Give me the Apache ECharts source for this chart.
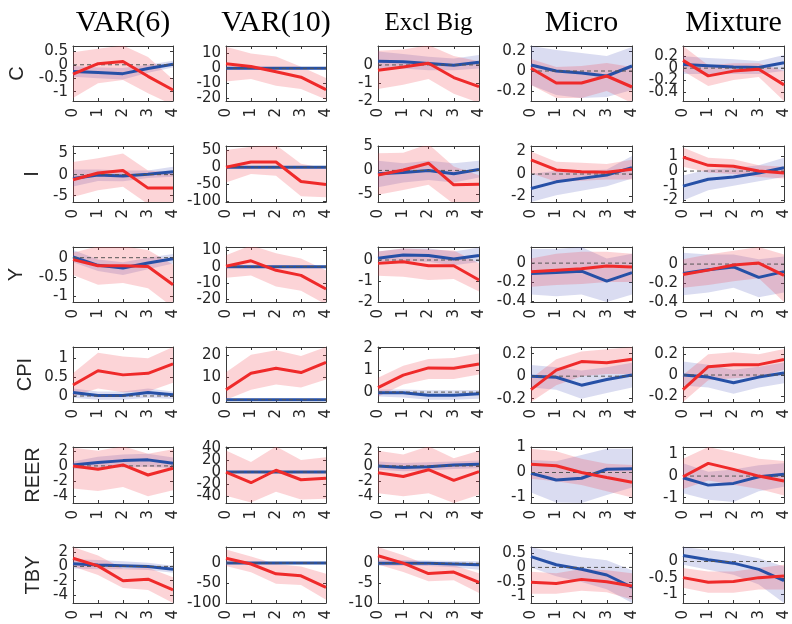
<!DOCTYPE html>
<html>
<head>
<meta charset="utf-8">
<script src="https://cdn.jsdelivr.net/npm/echarts@6/dist/echarts.min.js"></script>
<style>
  html, body { margin: 0; padding: 0; background: #ffffff; }
  #chart { width: 792px; height: 624px; }
</style>
</head>
<body>
<div id="chart"></div>
<script>
// Impulse responses over horizons 0..4: red = shock response with 90% band,
// blue = comparison response with band. Columns = model, rows = variable.
const horizons = [0, 1, 2, 3, 4];
const models = ['VAR(6)', 'VAR(10)', 'Excl Big', 'Micro', 'Mixture'];
const variables = ['C', 'I', 'Y', 'CPI', 'REER', 'TBY'];

// ---- C ----
const C_ylim = [[-1.35, 0.7], [-22, 15], [-2, 1.05], [-0.3, 0.25], [-0.55, 0.37]];
const C_ticks = [[-1, -0.5, 0, 0.5], [-20, -10, 0, 10], [-2, -1, 0], [-0.2, 0, 0.2], [-0.4, -0.2, 0, 0.2]];
const C_red   = [[-0.35, 0.04, 0.12, -0.43, -0.94], [3, 1.2, -2.3, -6, -14.3], [-0.3, -0.11, 0.09, -0.7, -1.2], [0.027, -0.12, -0.12, -0.05, -0.16], [0.13, -0.13, -0.05, -0.02, -0.28]];
const C_redLo = [[-1.24, -0.69, -0.57, -1.06, -1.5], [-8.8, -7.2, -11.7, -14, -21], [-1.33, -1.1, -0.78, -1.6, -2.1], [-0.14, -0.27, -0.27, -0.2, -0.32], [-0.05, -0.3, -0.2, -0.15, -0.55]];
const C_redHi = [[0.47, 0.6, 0.72, 0.29, -0.55], [14.5, 10, 8, 1, -6.5], [0.78, 0.85, 1.1, 0.5, 0.2], [0.12, 0.04, 0.05, 0.08, 0.04], [0.37, 0.05, 0.08, 0.08, -0.05]];
const C_blue   = [[-0.25, -0.29, -0.33, -0.14, 0.02], [0.1, 0.1, 0, 0, 0], [0.2, 0.18, 0.08, -0.02, 0.15], [0.06, 0.0, -0.02, -0.05, 0.05], [0.06, 0.04, 0.02, 0.01, 0.09]];
const C_blueLo = [[-0.45, -0.5, -0.55, -0.3, -0.1], [-0.6, -0.6, -0.6, -0.6, -0.6], [-0.25, -0.2, -0.3, -0.3, -0.2], [-0.14, -0.24, -0.27, -0.26, -0.19], [-0.1, -0.1, -0.1, -0.1, -0.05]];
const C_blueHi = [[-0.05, -0.1, -0.12, 0.0, 0.15], [0.7, 0.7, 0.6, 0.6, 0.6], [0.75, 0.6, 0.45, 0.35, 0.55], [0.25, 0.21, 0.18, 0.15, 0.24], [0.2, 0.17, 0.15, 0.12, 0.22]];

// ---- I ----
const I_ylim = [[-6.5, 6.8], [-102, 62], [-6.6, 5.1], [-2.5, 2.5], [-2.1, 1.7]];
const I_ticks = [[-5, 0, 5], [-100, -50, 0, 50], [-5, 0, 5], [-2, 0, 2], [-2, -1, 0, 1]];
const I_red   = [[-1.2, 0.4, 1.0, -3.2, -3.2], [0, 15, 15, -42, -51], [-0.95, 0.1, 1.5, -3.0, -2.9], [1.27, 0.36, 0.2, 0.15, 0.43], [0.95, 0.39, 0.32, 0, -0.13]];
const I_redLo = [[-5.3, -3.7, -2.9, -7, -7], [-45, -20, -25, -85, -88], [-5.1, -4.1, -3, -7, -7], [0.06, -0.7, -0.6, -0.5, -0.5], [0.3, -0.1, -0.2, -0.4, -0.5]];
const I_redHi = [[3.0, 3.9, 5.0, 1.0, 0.5], [50, 60, 65, 10, -3], [3.6, 3.7, 5.5, 0.8, -1.0], [2.0, 1.1, 1.0, 0.9, 1.27], [1.6, 0.9, 0.8, 0.4, 0.3]];
const I_blue   = [[-0.9, -0.1, -0.3, 0.1, 0.7], [0, 0, 0, 0, 0], [-0.7, -0.45, 0, -0.7, 0.2], [-1.3, -0.7, -0.39, -0.09, 0.57], [-1.02, -0.56, -0.4, -0.13, 0.23]];
const I_blueLo = [[-2.8, -1.5, -1.6, -0.8, -0.5], [-2, -2, -2, -2, -2], [-3.5, -2.5, -2, -2.5, -1.5], [-2.5, -1.9, -1.5, -1.1, -0.4], [-2.0, -1.3, -1.0, -0.7, -0.4]];
const I_blueHi = [[1.2, 1.2, 1.0, 1.0, 1.9], [2, 2, 2, 2, 2], [2, 1.5, 2, 1.5, 2], [0.0, 0.3, 0.3, 0.4, 1.6], [-0.3, 0.1, 0.2, 0.4, 0.9]];

// ---- Y ----
const Y_ylim = [[-1.16, 0.28], [-21.5, 12], [-2, 0.62], [-0.41, 0.17], [-0.4, 0.18]];
const Y_ticks = [[-1, -0.5, 0], [-20, -10, 0, 10], [-2, -1, 0], [-0.4, -0.2, 0], [-0.4, -0.2, 0]];
const Y_red   = [[-0.05, -0.21, -0.21, -0.23, -0.71], [0.3, 3.6, -2.2, -5.3, -13.6], [-0.16, -0.08, -0.27, -0.27, -0.95], [-0.09, -0.074, -0.06, -0.03, -0.04], [-0.11, -0.064, -0.01, 0.01, -0.12]];
const Y_redLo = [[-0.45, -0.71, -0.66, -0.8, -1.3], [-6.8, -5.3, -12, -14.7, -23], [-0.75, -0.8, -0.95, -0.9, -1.5], [-0.25, -0.23, -0.22, -0.2, -0.2], [-0.25, -0.22, -0.18, -0.15, -0.4]];
const Y_redHi = [[0.13, 0.3, 0.3, 0.2, -0.18], [7, 13, 8.2, 5, -2.2], [0.4, 0.55, 0.5, 0.45, -0.15], [0.05, 0.1, 0.12, 0.12, 0.1], [0.05, 0.1, 0.14, 0.18, 0.1]];
const Y_blue   = [[0.02, -0.2, -0.27, -0.14, -0.03], [0, 0, 0, 0, 0], [0.08, 0.24, 0.22, 0.05, 0.22], [-0.11, -0.1, -0.085, -0.19, -0.1], [-0.1, -0.06, -0.03, -0.14, -0.08]];
const Y_blueLo = [[-0.12, -0.35, -0.45, -0.3, -0.15], [-0.8, -0.8, -0.8, -0.8, -0.8], [-0.2, -0.05, -0.1, -0.25, -0.1], [-0.33, -0.35, -0.33, -0.41, -0.33], [-0.33, -0.3, -0.25, -0.35, -0.3]];
const Y_blueHi = [[0.2, -0.05, -0.12, 0.0, 0.1], [0.8, 0.8, 0.8, 0.8, 0.8], [0.4, 0.55, 0.55, 0.4, 0.6], [0.15, 0.15, 0.17, 0.05, 0.1], [0.12, 0.1, 0.1, 0.05, 0.08]];

// ---- CPI ----
const CPI_ylim = [[-0.16, 1.3], [-1, 23.5], [-0.45, 2.05], [-0.23, 0.26], [-0.26, 0.27]];
const CPI_ticks = [[0, 0.5, 1], [0, 10, 20], [0, 1, 2], [-0.2, 0, 0.2], [-0.2, 0, 0.2]];
const CPI_red   = [[0.29, 0.67, 0.56, 0.6, 0.85], [4.5, 11.8, 14, 12.1, 16.7], [0.2, 0.77, 1.1, 1.08, 1.28], [-0.12, 0.054, 0.13, 0.12, 0.15], [-0.14, 0.08, 0.1, 0.1, 0.15]];
const CPI_redLo = [[0.0, 0.2, 0.1, 0.12, 0.35], [0, 4.5, 6.8, 5.5, 9], [-0.2, 0.35, 0.6, 0.6, 0.8], [-0.23, -0.08, 0.0, 0.02, 0.02], [-0.26, -0.05, -0.03, -0.02, 0.05]];
const CPI_redHi = [[0.6, 1.15, 1.05, 1.0, 1.3], [12.3, 20, 22, 19.5, 23.5], [0.65, 1.2, 1.5, 1.55, 1.75], [-0.02, 0.15, 0.22, 0.24, 0.26], [0.0, 0.2, 0.22, 0.2, 0.25]];
const CPI_blue   = [[0.09, 0.01, 0.01, 0.09, 0.03], [0, 0, 0, 0, 0], [-0.03, -0.03, -0.14, -0.14, -0.08], [0, -0.01, -0.08, -0.03, 0.01], [0, -0.02, -0.075, -0.02, 0.02]];
const CPI_blueLo = [[-0.05, -0.1, -0.1, -0.05, -0.08], [-0.4, -0.4, -0.4, -0.4, -0.4], [-0.2, -0.25, -0.35, -0.35, -0.3], [-0.1, -0.12, -0.2, -0.15, -0.1], [-0.1, -0.12, -0.18, -0.12, -0.08]];
const CPI_blueHi = [[0.2, 0.12, 0.12, 0.2, 0.12], [0.4, 0.4, 0.4, 0.4, 0.4], [0.12, 0.12, 0.08, 0.08, 0.1], [0.1, 0.08, 0.05, 0.08, 0.12], [0.13, 0.1, 0.05, 0.08, 0.12]];

// ---- REER ----
const REER_ylim = [[-4.9, 2.5], [-52, 42], [-4.9, 2.5], [-1.22, 1.02], [-1.25, 1.35]];
const REER_ticks = [[-4, -2, 0, 2], [-40, -20, 0, 20, 40], [-4, -2, 0, 2], [-1, 0, 1], [-1, 0, 1]];
const REER_red   = [[0, -0.45, 0.13, -1.2, -0.3], [0, -18, 3, -13, -10.5], [-0.9, -1.4, -0.5, -1.9, -0.75], [0.33, 0.27, 0, -0.2, -0.39], [-0.03, 0.59, 0.31, 0, -0.23]];
const REER_redLo = [[-3.0, -3.3, -2.8, -4.0, -3.2], [-40, -51, -33, -46, -45], [-3.6, -4.0, -3.6, -4.9, -3.8], [-0.25, -0.35, -0.5, -0.75, -1.0], [-0.6, -0.2, -0.4, -0.6, -0.9]];
const REER_redHi = [[2.4, 2.0, 2.6, 1.6, 2.2], [36, 17, 43, 20, 25], [2.0, 1.5, 2.6, 1.0, 2.0], [0.95, 0.85, 0.55, 0.35, 0.3], [0.8, 1.35, 1.1, 0.8, 0.7]];
const REER_blue   = [[0.13, 0.45, 0.7, 0.8, 0.35], [0, 0, 0, 0, 0], [0, -0.2, -0.1, 0.13, 0.22], [-0.03, -0.3, -0.23, 0.13, 0.15], [-0.08, -0.42, -0.34, -0.03, 0.08]];
const REER_blueLo = [[-0.4, -0.3, -0.2, -0.1, -0.3], [-1.5, -1.5, -1.5, -1.5, -1.5], [-0.5, -0.7, -0.6, -0.4, -0.3], [-0.8, -1.2, -1.22, -0.9, -0.6], [-0.8, -1.1, -1.2, -0.7, -0.5]];
const REER_blueHi = [[0.6, 1.2, 1.5, 1.6, 1.1], [1.5, 1.5, 1.5, 1.5, 1.5], [0.6, 0.4, 0.5, 0.6, 0.7], [0.5, 0.45, 0.7, 0.95, 0.95], [0.6, 0.2, 0.3, 0.5, 0.6]];

// ---- TBY ----
const TBY_ylim = [[-5.1, 2.7], [-100, 40], [-10, 4.1], [-1.22, 0.7], [-1.26, 0.44]];
const TBY_ticks = [[-4, -2, 0, 2], [-100, -50, 0], [-10, -5, 0], [-1, -0.5, 0, 0.5], [-1, -0.5, 0]];
const TBY_red   = [[1.14, 0.07, -2.0, -1.78, -3.26], [12, -2.5, -27, -32, -61], [1.9, 0.05, -2.6, -2.2, -4.8], [-0.51, -0.55, -0.41, -0.49, -0.64], [-0.49, -0.63, -0.61, -0.49, -0.44]];
const TBY_redLo = [[0, -1.2, -3.0, -3.3, -5.1], [-7.5, -23, -52, -55, -92], [-0.3, -2.2, -4.5, -4.3, -7.5], [-0.9, -0.9, -0.8, -0.85, -1.1], [-0.8, -0.95, -0.95, -0.85, -0.85]];
const TBY_redHi = [[2.7, 1.5, -0.3, -0.2, -1.5], [34, 16, -2.5, -9, -27], [4.1, 2.0, -0.5, -0.5, -2.5], [-0.15, -0.2, -0.05, -0.1, -0.2], [-0.2, -0.3, -0.3, -0.2, -0.1]];
const TBY_blue   = [[0.35, 0.2, 0.1, -0.02, -0.4], [0, 0, 0, 0, 0], [0, 0, 0, -0.2, -0.4], [0.37, 0.09, -0.06, -0.26, -0.68], [0.18, 0.05, -0.05, -0.24, -0.58]];
const TBY_blueLo = [[-0.3, -0.4, -0.4, -0.5, -0.9], [-2, -2, -2, -2, -2], [-0.6, -0.6, -0.7, -1.0, -1.6], [0, -0.3, -0.5, -0.75, -1.22], [-0.1, -0.25, -0.4, -0.7, -1.26]];
const TBY_blueHi = [[1.0, 0.9, 0.7, 0.5, 0.1], [2, 2, 2, 2, 2], [0.8, 0.8, 0.7, 0.6, 0.5], [0.7, 0.5, 0.35, 0.25, -0.1], [0.44, 0.35, 0.25, 0.1, -0.15]];

// zero reference line
const zeroLine = [0, 0, 0, 0, 0];

// lookup built from the arrays above
const rows = [
  { ylim: C_ylim, ticks: C_ticks, red: C_red, redLo: C_redLo, redHi: C_redHi, blue: C_blue, blueLo: C_blueLo, blueHi: C_blueHi },
  { ylim: I_ylim, ticks: I_ticks, red: I_red, redLo: I_redLo, redHi: I_redHi, blue: I_blue, blueLo: I_blueLo, blueHi: I_blueHi },
  { ylim: Y_ylim, ticks: Y_ticks, red: Y_red, redLo: Y_redLo, redHi: Y_redHi, blue: Y_blue, blueLo: Y_blueLo, blueHi: Y_blueHi },
  { ylim: CPI_ylim, ticks: CPI_ticks, red: CPI_red, redLo: CPI_redLo, redHi: CPI_redHi, blue: CPI_blue, blueLo: CPI_blueLo, blueHi: CPI_blueHi },
  { ylim: REER_ylim, ticks: REER_ticks, red: REER_red, redLo: REER_redLo, redHi: REER_redHi, blue: REER_blue, blueLo: REER_blueLo, blueHi: REER_blueHi },
  { ylim: TBY_ylim, ticks: TBY_ticks, red: TBY_red, redLo: TBY_redLo, redHi: TBY_redHi, blue: TBY_blue, blueLo: TBY_blueLo, blueHi: TBY_blueHi }
];

// layout of the panel grid (pixels)
const colLeft = [73, 226, 378, 531, 683];
const colWidth = [100, 100, 101, 101, 101];
const rowTop = [46, 146, 247, 347, 447, 547];
const rowHeight = [55, 56, 55, 55, 56, 56];
const rowLabelX = [17, 32, 16, 25, 33, 33];

const AXIS_COLOR = '#3a3a3a';
const LABEL_COLOR = '#262626';
const RED = '#ef2a2a';
const BLUE = '#2650a6';
const RED_BAND = 'rgba(240, 60, 75, 0.22)';
const BLUE_BAND = 'rgba(70, 80, 185, 0.2)';
const tickFont = { fontFamily: 'DejaVu Sans', fontSize: 15, color: LABEL_COLOR };
const keepAllLabels = { interval: 0, hideOverlap: false, showMinLabel: true, showMaxLabel: true };

const pairs = (ys) => horizons.map((h, k) => [h, ys[k]]);
const bandData = (lo, hi) => horizons.map((h, k) => [h, lo[k], hi[k]]);

// band drawn as one polygon through the axis scales: upper edge then lower edge reversed
function bandRenderer(color) {
  return function (params, api) {
    if (params.dataIndex !== 0) return null;
    const n = params.dataInsideLength;
    const upper = [], lower = [];
    for (let k = 0; k < n; k++) {
      upper.push(api.coord([api.value(0, k), api.value(2, k)]));
      lower.push(api.coord([api.value(0, k), api.value(1, k)]));
    }
    const cs = params.coordSys;
    return {
      type: 'polygon',
      shape: { points: upper.concat(lower.reverse()) },
      style: { fill: color },
      clipPath: { type: 'rect', shape: { x: cs.x, y: cs.y, width: cs.width, height: cs.height } },
      silent: true
    };
  };
}

const grids = [], xAxes = [], yAxes = [], series = [], graphics = [];

rows.forEach((row, r) => {
  models.forEach((m, c) => {
    const g = grids.length;
    grids.push({ left: colLeft[c], top: rowTop[r], width: colWidth[c], height: rowHeight[r], containLabel: false });

    const xBase = {
      gridIndex: g, type: 'value', min: 0, max: 4, interval: 1,
      axisLine: { show: true, onZero: false, lineStyle: { color: AXIS_COLOR, width: 1 } },
      axisTick: { show: true, inside: true, length: 3, lineStyle: { color: AXIS_COLOR } },
      splitLine: { show: false }
    };
    xAxes.push(Object.assign({}, xBase, { position: 'bottom', axisLabel: Object.assign({ rotate: 90, margin: 7 }, keepAllLabels, tickFont) }));
    xAxes.push(Object.assign({}, xBase, { position: 'top', axisLabel: { show: false } }));

    // tick labels are split over two left axes (alternating values) so that
    // closely packed labels are all kept, overlapping as they do in the figure
    const ticks = row.ticks[c];
    const evenTicks = ticks.filter((v, k) => k % 2 === 0);
    const oddTicks = ticks.filter((v, k) => k % 2 === 1);
    const yBase = {
      gridIndex: g, type: 'value', min: row.ylim[c][0], max: row.ylim[c][1],
      splitLine: { show: false }
    };
    yAxes.push(Object.assign({}, yBase, {
      position: 'left',
      axisLine: { show: true, onZero: false, lineStyle: { color: AXIS_COLOR, width: 1 } },
      axisTick: { show: true, inside: true, length: 3, customValues: ticks, lineStyle: { color: AXIS_COLOR } },
      axisLabel: Object.assign({ customValues: evenTicks, margin: 5 }, keepAllLabels, tickFont)
    }));
    yAxes.push(Object.assign({}, yBase, {
      position: 'left',
      axisLine: { show: false, onZero: false },
      axisTick: { show: false },
      axisLabel: Object.assign({ show: oddTicks.length > 0, customValues: oddTicks.length ? oddTicks : [0], margin: 5 }, keepAllLabels, tickFont)
    }));
    yAxes.push(Object.assign({}, yBase, {
      position: 'right',
      axisLine: { show: true, onZero: false, lineStyle: { color: AXIS_COLOR, width: 1 } },
      axisTick: { show: true, inside: true, length: 3, customValues: ticks, lineStyle: { color: AXIS_COLOR } },
      axisLabel: { show: false }
    }));

    const ax = { xAxisIndex: 2 * g, yAxisIndex: 3 * g };
    const line = Object.assign({ type: 'line', symbol: 'none', showSymbol: false, silent: true, clip: true, animation: false }, ax);
    const band = Object.assign({ type: 'custom', silent: true, animation: false, clip: true, encode: { x: 0, y: [1, 2] } }, ax);

    series.push(Object.assign({}, band, { data: bandData(row.blueLo[c], row.blueHi[c]), renderItem: bandRenderer(BLUE_BAND) }));
    series.push(Object.assign({}, band, { data: bandData(row.redLo[c], row.redHi[c]), renderItem: bandRenderer(RED_BAND) }));
    series.push(Object.assign({}, line, { data: pairs(row.blue[c]), lineStyle: { color: BLUE, width: 3 } }));
    series.push(Object.assign({}, line, { data: pairs(zeroLine), lineStyle: { color: '#555555', width: 1, type: [4, 3] } }));
    series.push(Object.assign({}, line, { data: pairs(row.red[c]), lineStyle: { color: RED, width: 3 } }));
  });

  graphics.push({
    type: 'text', x: rowLabelX[r], y: rowTop[r] + rowHeight[r] / 2, rotation: Math.PI / 2,
    style: { text: variables[r], font: '20px "Liberation Sans"', fill: LABEL_COLOR, textAlign: 'center', textVerticalAlign: 'middle' }
  });
});

models.forEach((m, c) => {
  graphics.push({
    type: 'text', x: colLeft[c] + colWidth[c] / 2, y: 23,
    style: { text: m, font: (m === 'Excl Big' ? '25px' : '30px') + ' "Liberation Serif"', fill: '#000000', textAlign: 'center', textVerticalAlign: 'middle' }
  });
});

const chart = echarts.init(document.getElementById('chart'), null, { renderer: 'canvas' });
chart.setOption({
  animation: false,
  backgroundColor: '#ffffff',
  grid: grids,
  xAxis: xAxes,
  yAxis: yAxes,
  series: series,
  graphic: graphics
});
</script>
</body>
</html>
